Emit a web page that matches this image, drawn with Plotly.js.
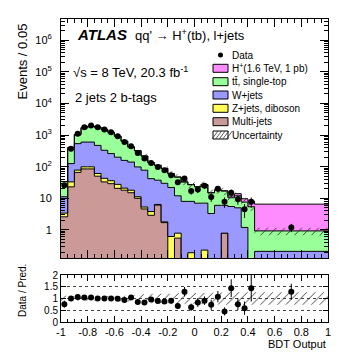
<!DOCTYPE html>
<html>
<head>
<meta charset="utf-8">
<script src="https://cdn.plot.ly/plotly-3.0.1.min.js"></script>
<style>
  body { margin: 0; background: #fff; }
  #graph { width: 349px; height: 361px; }
</style>
</head>
<body>
<div id="graph"></div>
<script>
// bin edges of the BDT output (last bin is the wide one, 0.45 - 1)
const binEdges = [-1, -0.95, -0.9, -0.85, -0.8, -0.75, -0.7, -0.65, -0.6, -0.55,
  -0.5, -0.45, -0.4, -0.35, -0.3, -0.25, -0.2, -0.15, -0.1, -0.05,
  0, 0.05, 0.1, 0.15, 0.2, 0.25, 0.3, 0.35, 0.4, 0.45, 1]

// background components, events / 0.05
const multijet = [2.6, 23, 66, 85, 85, 50, 33, 29, 20.6, 18, 15, 10, 4.6, 2.9, 6.1, 1.7, 0, 0.55, 0, 0,
  0, 0, 0, 0, 0.79, 0, 0, 0, 0, 0]
const zjets = [0.8, 10, 12, 14, 14, 11, 10, 7, 7, 3, 3, 1.2, 0.7, 0.9, 0.3, 0.1, 0.62, 0.24, 0, 0.19,
  0, 0.23, 0, 0, 0, 0, 0, 0, 0, 0]
const wjets = [7.8, 92, 457, 501, 501, 409, 287, 224, 172, 137, 122, 87, 72, 38, 31, 28, 21.4, 11.2, 8, 7.8,
  7, 6.8, 3.3, 6, 5.2, 5.5, 5, 1.2, 0, 0.21]
const ttbar = [22.8, 275, 505, 1110, 1320, 1310, 1180, 970, 720, 482, 283, 220, 140, 93, 73, 58, 38, 35, 25, 19,
  16, 20, 11.7, 12.5, 11, 4.9, 7, 6.4, 5.4, 0.72]
const signal = [0, 0, 0, 0, 0, 0, 0, 0, 0, 0, 0, 0, 0, 0, 0, 0, 0, 0, 0, 0,
  0, 0, 0, 0, 0.3, 1.5, 2, 2.1, 2.7, 5.6]
// relative systematic uncertainty on the prediction
const uncertainty = [0.12, 0.1, 0.1, 0.1, 0.1, 0.1, 0.11, 0.11, 0.12, 0.12, 0.14, 0.16, 0.18, 0.2, 0.2, 0.2, 0.2, 0.22, 0.22, 0.22,
  0.24, 0.24, 0.25, 0.25, 0.26, 0.27, 0.27, 0.27, 0.27, 0.27]

const dataVals = [26, 372, 1100, 1780, 2000, 1780, 1510, 1230, 910, 600, 440, 270, 180, 130, 98, 77, 54, 32, 42, 17,
  19, 25, 11, 20, 7.8, 15, 9.3, 4.5, 7.8, 1.2]
const dataErr = [5, 19, 33, 42, 45, 42, 39, 35, 30, 24, 21, 16, 13, 11, 10, 9, 7, 6, 6.5, 4,
  4.4, 5, 3.3, 4.5, 2.8, 3.9, 3, 2.1, 2.8, 0.35]

const ratioVals = [0.76, 1.0, 1.06, 1.04, 1.04, 1.0, 1.0, 1.0, 0.99, 0.94, 1.04, 0.85, 0.83, 0.96, 0.89, 0.87, 0.9, 0.68, 1.29, 0.63,
  0.83, 0.91, 0.73, 1.08, 0.45, 1.44, 0.76, 0.59, 1.44, 1.29]
const ratioErr = [0.15, 0.05, 0.03, 0.03, 0.03, 0.03, 0.03, 0.03, 0.04, 0.04, 0.05, 0.06, 0.07, 0.08, 0.09, 0.1, 0.12, 0.12, 0.2, 0.15,
  0.19, 0.18, 0.22, 0.24, 0.17, 0.38, 0.25, 0.28, 0.57, 0.34]

const ratioTicks = [-1, -0.8, -0.6, -0.4, -0.2, 0, 0.2, 0.4, 0.6, 0.8, 1]
const ratioTickText = ["-1", "-0.8", "-0.6", "-0.4", "-0.2", "0", "0.2", "0.4", "0.6", "0.8", "1"]

const legendNames = ["Data", "H<sup>+</sup>(1.6 TeV, 1 pb)", "tt\u0304, single-top", "W+jets",
  "Z+jets, diboson", "Multi-jets", "Uncertainty"]
const colors = {
  signal: "#ff8cff",
  ttbar: "#99ff99",
  wjets: "#9999ff",
  zjets: "#ffff55",
  multijet: "#cc9999",
}

const FONT = "Liberation Sans, Arial, Helvetica, sans-serif"

// plot area in pixels, used to place texts in paper coords
const L = 61, R = 328, T = 19, B = 322
const px = (v) => (v - L) / (R - L)
const py = (v) => (B - v) / (B - T)

const centers = []
for (let i = 0; i < binEdges.length - 1; i++) centers.push((binEdges[i] + binEdges[i + 1]) / 2)

function step(vals) {
  return vals.concat([vals[vals.length - 1]])
}

function addArr(a, b) {
  return a.map((v, i) => v + b[i])
}

const floor = 1e-3
const cumMJ = multijet.slice()
const cumZ = addArr(cumMJ, zjets)
const cumW = addArr(cumZ, wjets)
const cumTT = addArr(cumW, ttbar)
const cumSig = addArr(cumTT, signal)
const bandLo = cumTT.map((v, i) => v * (1 - uncertainty[i]))
const bandHi = cumTT.map((v, i) => v * (1 + uncertainty[i]))

function layer(vals, fillcolor, fill) {
  return {
    x: binEdges,
    y: step(vals.map((v) => Math.max(v, floor))),
    xaxis: "x", yaxis: "y",
    mode: "lines",
    line: { shape: "hv", color: "#000", width: 1 },
    fill: fill,
    fillcolor: fillcolor,
    hoverinfo: "skip",
  }
}

const hatch = { shape: "/", fgcolor: "#333", bgcolor: "rgba(0,0,0,0)", size: 6, solidity: 0.15 }

const traces = [
  layer(binEdges.slice(0, -1).map(() => floor), "rgba(0,0,0,0)", "none"),
  layer(cumMJ, colors.multijet, "tonexty"),
  layer(cumZ, colors.zjets, "tonexty"),
  layer(cumW, colors.wjets, "tonexty"),
  layer(cumTT, colors.ttbar, "tonexty"),
  layer(cumSig, colors.signal, "tonexty"),
  {
    x: binEdges, y: step(bandLo), xaxis: "x", yaxis: "y",
    mode: "lines", line: { shape: "hv", width: 0 }, hoverinfo: "skip",
  },
  {
    x: binEdges, y: step(bandHi), xaxis: "x", yaxis: "y",
    mode: "lines", line: { shape: "hv", width: 0 }, fill: "tonexty",
    fillcolor: "rgba(0,0,0,0)", fillpattern: hatch, hoverinfo: "skip",
  },
  {
    x: centers, y: dataVals, xaxis: "x", yaxis: "y",
    mode: "markers",
    marker: { color: "#000", size: 6 },
    error_y: { type: "data", array: dataErr, color: "#000", thickness: 1, width: 0 },
  },
  // ratio panel
  {
    x: binEdges, y: step(uncertainty.map((u) => 1 - u)), xaxis: "x2", yaxis: "y2",
    mode: "lines", line: { shape: "hv", width: 0 }, hoverinfo: "skip",
  },
  {
    x: binEdges, y: step(uncertainty.map((u) => 1 + u)), xaxis: "x2", yaxis: "y2",
    mode: "lines", line: { shape: "hv", width: 0 }, fill: "tonexty",
    fillcolor: "rgba(0,0,0,0)", fillpattern: hatch, hoverinfo: "skip",
  },
  {
    x: centers, y: ratioVals, xaxis: "x2", yaxis: "y2",
    mode: "markers",
    marker: { color: "#000", size: 6 },
    error_y: { type: "data", array: ratioErr, color: "#000", thickness: 1, width: 0 },
  },
]

// legend drawn by hand (ROOT style, tight spacing)
const shapes = []
const annotations = []
const legendY = [55, 68.3, 81.7, 95, 108.3, 121.7, 135]
const swatchColors = [null, colors.signal, colors.ttbar, colors.wjets, colors.zjets, colors.multijet, "#fff"]
legendNames.forEach((name, i) => {
  const yc = legendY[i]
  if (i === 0) {
    shapes.push({
      type: "circle", xref: "paper", yref: "paper",
      x0: px(218), x1: px(223), y0: py(yc + 2.5), y1: py(yc - 2.5),
      fillcolor: "#000", line: { width: 0 },
    })
  } else {
    shapes.push({
      type: "rect", xref: "paper", yref: "paper",
      x0: px(213), x1: px(228), y0: py(yc + 4), y1: py(yc - 4),
      fillcolor: swatchColors[i], line: { color: "#000", width: 1 },
    })
    if (i === 6) {
      for (let k = 0; k < 5; k++) {
        shapes.push({
          type: "line", xref: "paper", yref: "paper",
          x0: px(212 + k * 3.6), x1: px(218 + k * 3.6), y0: py(yc + 4), y1: py(yc - 4),
          line: { color: "#333", width: 0.8 },
        })
      }
    }
  }
  annotations.push({
    x: px(230), y: py(yc), text: name,
    font: { family: FONT, size: 10, color: "#000" },
  })
})

annotations.push(
  { x: px(75), y: py(35), text: "<b><i>ATLAS</i></b>", font: { family: FONT, size: 15, color: "#000" } },
  { x: px(133), y: py(35), text: "qq' \u2192 H<sup>+</sup>(tb), l+jets", font: { family: FONT, size: 13, color: "#000" } },
  { x: px(71), y: py(72), text: "\u221As = 8 TeV, 20.3 fb<sup>-1</sup>", font: { family: FONT, size: 13, color: "#000" } },
  { x: px(73), y: py(97), text: "2 jets 2 b-tags", font: { family: FONT, size: 13, color: "#000" } },
  { x: px(22), y: py(61.5), text: "Events / 0.05", textangle: -90, xanchor: "center",
    font: { family: FONT, size: 13, color: "#000" } },
  { x: px(22), y: py(291), text: "Data / Pred.", textangle: -90, xanchor: "center",
    font: { family: FONT, size: 10, color: "#000" } },
  { x: px(328), y: py(344), text: "BDT Output", xanchor: "right",
    font: { family: FONT, size: 11, color: "#000" } }
)
annotations.forEach((a) => {
  a.xref = "paper"; a.yref = "paper"; a.showarrow = false
  if (!a.xanchor) a.xanchor = "left"
  a.yanchor = "middle"
})

const axisCommon = {
  showline: true, linecolor: "#000", linewidth: 1, mirror: "allticks",
  ticks: "inside", tickcolor: "#000", zeroline: false, showgrid: false,
  tickfont: { family: FONT, size: 11, color: "#000" },
}

const layout = {
  width: 349, height: 361,
  margin: { l: L, r: 349 - R, t: T, b: 361 - B },
  paper_bgcolor: "#fff", plot_bgcolor: "#fff",
  showlegend: false,
  font: { family: FONT, color: "#000" },
  xaxis: Object.assign({}, axisCommon, {
    domain: [0, 1], anchor: "y", range: [-1, 1],
    tick0: -1, dtick: 0.2, ticklen: 8, showticklabels: false,
    minor: { ticks: "inside", dtick: 0.05, ticklen: 4, tickcolor: "#000" },
  }),
  yaxis: Object.assign({}, axisCommon, {
    domain: [0.211, 1], anchor: "x", type: "log", range: [-0.89, 6.67],
    tickvals: [1, 10, 100, 1000, 1e4, 1e5, 1e6],
    ticktext: ["1", "10", "10<sup>2</sup>", "10<sup>3</sup>", "10<sup>4</sup>", "10<sup>5</sup>", "10<sup>6</sup>"],
    ticklen: 8, ticklabelstandoff: 6,
    minor: { ticks: "inside", dtick: "D1", ticklen: 4, tickcolor: "#000" },
  }),
  xaxis2: Object.assign({}, axisCommon, {
    domain: [0, 1], anchor: "y2", range: [-1, 1],
    tickvals: ratioTicks, ticktext: ratioTickText, ticklen: 6, ticklabelstandoff: 0,
    minor: { ticks: "inside", tickvals: binEdges.slice(0, -1).concat([0.5, 0.55, 0.6, 0.65, 0.7, 0.75, 0.8, 0.85, 0.9, 0.95]),
      ticklen: 3, tickcolor: "#000" },
  }),
  yaxis2: Object.assign({}, axisCommon, {
    domain: [0, 0.155], anchor: "x2", range: [0, 2],
    tickvals: [0, 0.5, 1, 1.5, 2], ticktext: ["0", "0.5", "1", "1.5", "2"],
    ticklen: 5, showgrid: true, gridcolor: "#444", griddash: "dot", gridwidth: 1,
    tickfont: { family: FONT, size: 10, color: "#000" },
  }),
  shapes: shapes,
  annotations: annotations,
}

Plotly.newPlot("graph", traces, layout, { displayModeBar: false, staticPlot: true })
</script>
</body>
</html>
